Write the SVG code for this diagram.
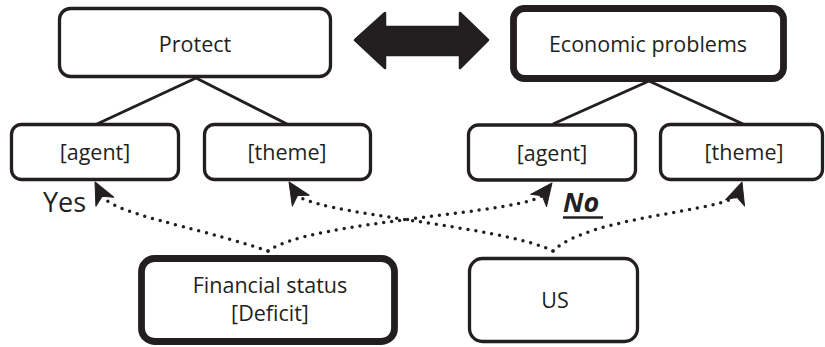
<svg xmlns="http://www.w3.org/2000/svg" width="825" height="347" viewBox="0 0 825 347">
<style>
.box{fill:#fff;stroke:#231f20;stroke-width:3.3}
.thick{stroke-width:6.8}
.t{font-family:"Open Sans",Lato,sans-serif;font-size:21.5px;fill:#231f20;text-anchor:middle}
.tree{stroke:#231f20;stroke-width:3;fill:none}
.dot{fill:none;stroke:#231f20;stroke-width:3.5;stroke-linecap:round;stroke-dasharray:0 8}
.head{fill:#231f20;stroke:#231f20;stroke-width:1;stroke-linejoin:round}
</style>
<defs>
<path id="stealth" class="head" d="M0,0 L-22,-10 L-16,0 L-22,10 Z"/>
</defs>
<g id="connectors">
<path class="tree" d="M196,78 L97,124 M196,78 L287,124"/>
<path class="tree" d="M649,81 L553,124 M649,81 L743,124"/>
<path id="bigarrow" d="M355,40 L385,13 L385,27 L460,27 L460,13 L488,40 L460,68 L460,55 L385,55 L385,68 Z" fill="#231f20" stroke="#231f20" stroke-width="2.5" stroke-linejoin="round"/>
<path class="dot" d="M268,251 C190,225 112,214 102,195"/>
<path class="dot" d="M268,251 C310,220 527,214 544,194"/>
<path class="dot" d="M553,251 C500,225 310,214 296,194"/>
<path class="dot" d="M553,251 C590,215 728,212 738,194"/>
<use href="#stealth" transform="translate(95,182) rotate(-116.6)"/>
<use href="#stealth" transform="translate(289,182) rotate(-122.3)"/>
<use href="#stealth" transform="translate(552,183) rotate(-52.5)"/>
<use href="#stealth" transform="translate(742,182) rotate(-71.6)"/>
</g>
<g id="protect"><rect class="box" x="59.5" y="8.5" width="271" height="68" rx="11"/><text class="t" x="195" y="51.5">Protect</text></g>
<g id="economic"><rect class="box thick" x="513.5" y="8.5" width="270" height="70" rx="11"/><text class="t" x="648" y="52">Economic problems</text></g>
<g id="agent1"><rect class="box" x="11.5" y="124.5" width="167" height="55" rx="10"/><text class="t" x="95" y="160">[agent]</text></g>
<g id="theme1"><rect class="box" x="204.5" y="124.5" width="166" height="55" rx="10"/><text class="t" x="287" y="160">[theme]</text></g>
<g id="agent2"><rect class="box" x="468.5" y="125" width="167" height="55" rx="10"/><text class="t" x="552" y="160.5">[agent]</text></g>
<g id="theme2"><rect class="box" x="660.5" y="124.5" width="162" height="55" rx="10"/><text class="t" x="744" y="160">[theme]</text></g>
<g id="financial"><rect class="box thick" x="141.5" y="258.5" width="253" height="83" rx="13"/><text class="t" x="270" y="293">Financial status</text><text class="t" x="270" y="321">[Deficit]</text></g>
<g id="us"><rect class="box" x="469.5" y="258.5" width="168" height="83" rx="13"/><text class="t" x="555" y="308">US</text></g>
<g id="labels">
<text x="43" y="212" style="font-family:'Open Sans',Lato,sans-serif;font-size:27px;fill:#231f20">Yes</text>
<text x="563" y="212" style="font-family:'Open Sans',Lato,sans-serif;font-size:27px;font-weight:bold;font-style:italic;fill:#231f20">No</text>
<line x1="563" y1="217.5" x2="603" y2="217.5" stroke="#231f20" stroke-width="2.5"/>
</g>
</svg>
